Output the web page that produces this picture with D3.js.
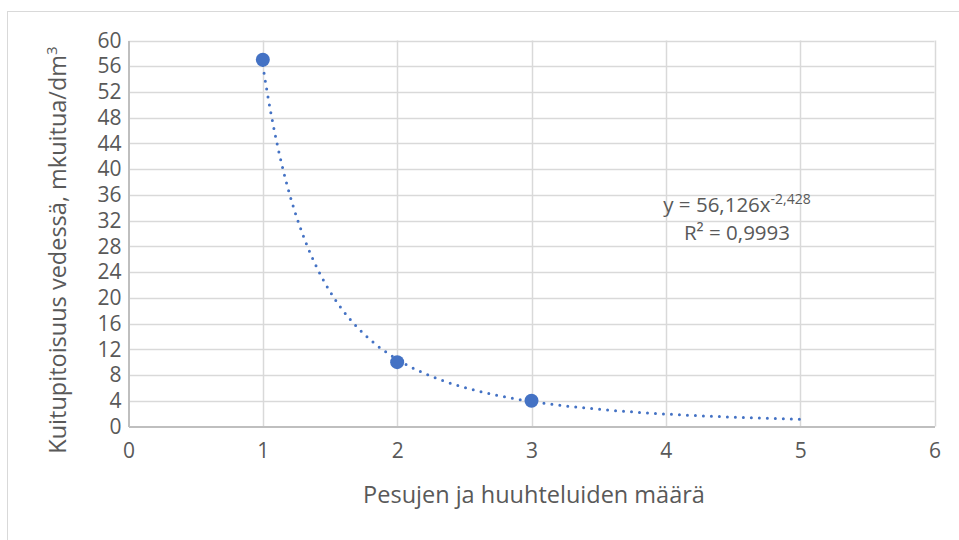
<!DOCTYPE html>
<html>
<head>
<meta charset="utf-8">
<script src="https://cdn.jsdelivr.net/npm/d3@7"></script>
<style>
  html, body { margin: 0; padding: 0; background: #fff; }
  svg { display: block; font-family: "Open Sans", sans-serif; }
</style>
</head>
<body>
<svg id="chart" width="959" height="540"></svg>
<script>
const washes = [1, 2, 3];
const fibreValues = [57, 10, 4];
const xTicks = [0, 1, 2, 3, 4, 5, 6];
const yTicks = [0, 4, 8, 12, 16, 20, 24, 28, 32, 36, 40, 44, 48, 52, 56, 60];
const trendCoef = 56.126;
const trendExp = -2.428;
const trendRange = [1, 5];
const xTitle = "Pesujen ja huuhteluiden määrä";
const yTitle = "Kuitupitoisuus vedessä, mkuitua/dm";
const eqMain = "y = 56,126x";
const eqSup = "-2,428";
const r2Text = "R² = 0,9993";

const svg = d3.select("#chart");
const m = { left: 128.5, right: 934.5, top: 40.5, bottom: 426.5 };
const textColor = "#595959";
const blue = "#4472C4";
const FONT = "'Open Sans', sans-serif";

// outer chart border
svg.append("rect").attr("x", 7.5).attr("y", 11.5).attr("width", 1000).attr("height", 1000)
  .attr("fill", "none").attr("stroke", "#d9d9d9").attr("stroke-width", 1);

const x = d3.scaleLinear().domain([0, 6]).range([m.left, m.right]);
const y = d3.scaleLinear().domain([0, 60]).range([m.bottom, m.top]);

// gridlines
const grid = svg.append("g");
grid.selectAll(".hg").data(yTicks.filter(d => d > 0)).enter().append("line")
  .attr("x1", m.left).attr("x2", m.right)
  .attr("y1", d => Math.round(y(d)) + 0.5).attr("y2", d => Math.round(y(d)) + 0.5)
  .attr("stroke", "#d9d9d9").attr("stroke-width", 1.5);
grid.selectAll(".vg").data(xTicks.filter(d => d > 0)).enter().append("line")
  .attr("y1", m.top).attr("y2", m.bottom)
  .attr("x1", d => Math.round(x(d)) + 0.5).attr("x2", d => Math.round(x(d)) + 0.5)
  .attr("stroke", "#d9d9d9").attr("stroke-width", 1.5);

// axes
const xAxis = d3.axisBottom(x).tickValues(xTicks).tickSize(0).tickPadding(17).tickFormat(d3.format("d"));
const yAxis = d3.axisLeft(y).tickValues(yTicks).tickSize(0).tickPadding(7).tickFormat(d3.format("d"));
const gx = svg.append("g").attr("transform", `translate(0,${m.bottom})`).call(xAxis);
const gy = svg.append("g").attr("transform", `translate(${m.left},0)`).call(yAxis);
[gx, gy].forEach(g => {
  g.select(".domain").attr("stroke", "#bfbfbf").attr("stroke-width", 2);
  g.selectAll("text").attr("fill", textColor).attr("font-size", 21).attr("font-family", FONT);
});
gx.selectAll("text").attr("dy", "0.71em");

// trendline
const trendXs = d3.range(trendRange[0], trendRange[1] + 1e-9, 0.02);
const line = d3.line().x(d => x(d)).y(d => y(trendCoef * Math.pow(d, trendExp)));
svg.append("path").datum(trendXs).attr("d", line)
  .attr("fill", "none").attr("stroke", blue).attr("stroke-width", 3)
  .attr("stroke-linecap", "round").attr("stroke-dasharray", "0 8");

// markers
svg.selectAll(".pt").data(washes).enter().append("circle")
  .attr("cx", d => x(d)).attr("cy", (d, i) => y(fibreValues[i]))
  .attr("r", 7).attr("fill", blue);

// equation label
const eq = svg.append("text").attr("x", 737).attr("y", 212).attr("text-anchor", "middle")
  .attr("fill", textColor).attr("font-size", 20.5);
eq.append("tspan").text(eqMain);
eq.append("tspan").attr("dy", -8).attr("font-size", 14).text(eqSup);
svg.append("text").attr("x", 737).attr("y", 240).attr("text-anchor", "middle")
  .attr("fill", textColor).attr("font-size", 20.5).text(r2Text);

// axis titles
svg.append("text").attr("x", 534).attr("y", 503).attr("text-anchor", "middle")
  .attr("fill", textColor).attr("font-size", 23.5).text(xTitle);
const yt = svg.append("text").attr("transform", `translate(66,250) rotate(-90)`)
  .attr("text-anchor", "middle").attr("fill", textColor).attr("font-size", 23.5);
yt.append("tspan").text(yTitle);
yt.append("tspan").attr("dy", -9).attr("font-size", 15).text("3");
</script>
</body>
</html>
